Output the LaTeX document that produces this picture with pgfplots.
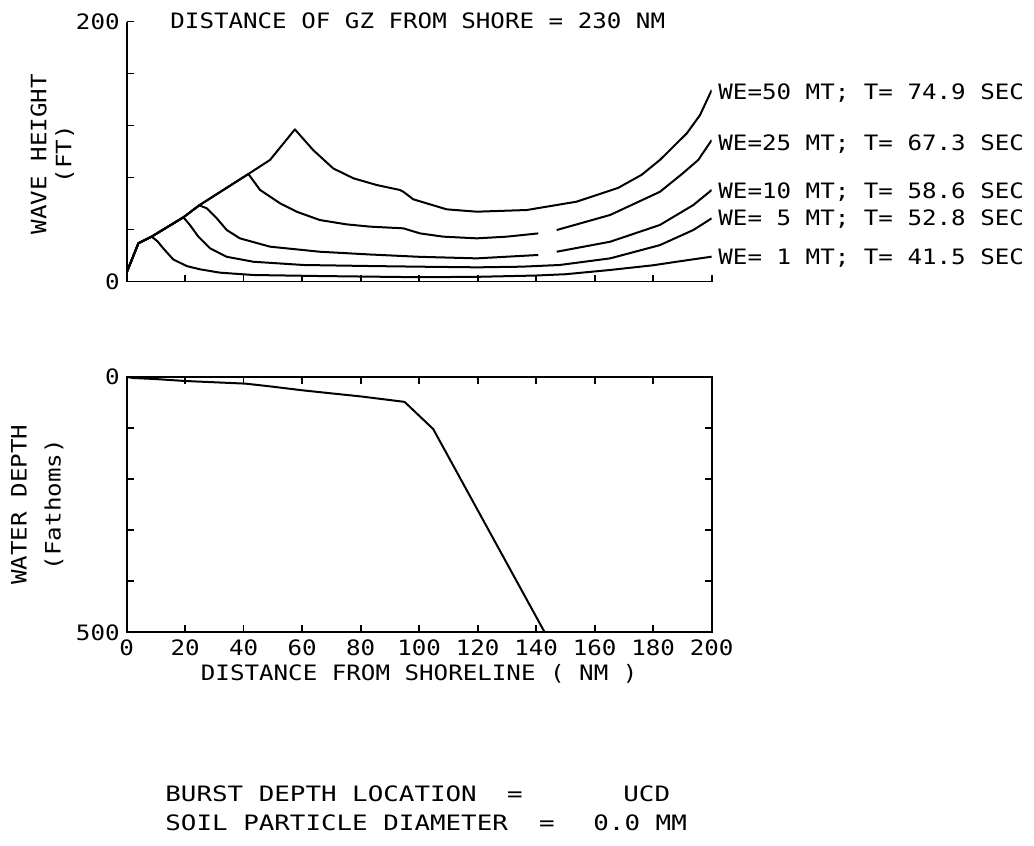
\documentclass[border=0pt]{standalone}
\usepackage{pgfplots}
\pgfplotsset{compat=1.18}
\usepackage{fontspec}
\newfontfamily\plotfont[FakeStretch=1.14]{DejaVu Sans Mono}
\newfontfamily\plotfontw[FakeStretch=1.22]{DejaVu Sans Mono}
\newcommand{\pf}{\plotfont\fontsize{10.6}{12.5}\selectfont}

% plotter look shared by both panels
\pgfplotsset{
  plotter/.style={
    scale only axis, width=292.5pt,
    xmin=0, xmax=200,
    xtick={0,20,...,200},
    tick align=inside,
    major tick length=3.5pt,
    axis line style={line width=0.9pt, -},
    every tick/.style={black, line width=0.8pt},
    tick label style={font=\pf},
    /pgf/number format/assume math mode=true,
    label style={font=\pf},
    cycle list={{black, solid, mark=none}},
    every axis plot post/.append style={line width=1pt, line join=round},
  },
}

\begin{document}
\begin{tikzpicture}
\path[use as bounding box] (0,0) rectangle (517pt,-423pt);

% wave height vs distance
\begin{axis}[plotter,
  at={(63.35pt,-140.75pt)}, anchor=south west, height=130pt,
  ymin=0, ymax=200, ytick={0,40,...,200}, yticklabels={0,,,,,200},
  xticklabels={},
  axis x line*=bottom, axis y line*=left,
  ylabel={WAVE HEIGHT\\(FT)},
  ylabel style={align=center, at={(axis description cs:-0.127,0.49)}, anchor=center},
]
% WE = 1 MT
\addplot coordinates {(0,7) (4,29.4) (8.5,34.5) (10.5,31) (12.5,25.5) (15.9,17) (20.5,11.9)
  (25,9.4) (31.9,6.8) (43.3,5) (66,4.2) (100,3.3) (120,3.6) (140,4.6) (150,5.6)
  (165,8.8) (180,12.5) (188,15.2) (200,19.1)};
% WE = 5 MT
\addplot coordinates {(0,7) (4,29.4) (8.5,34.5) (19.4,49.4) (21.6,43.5) (24.5,34.5)
  (28.5,25.5) (34.2,19) (43.3,15.2) (60.4,12.7) (83.2,11.9) (100,11.4) (120,10.9)
  (135,11.4) (148,12.7) (165.3,17.8) (182.3,28) (193.7,39.6) (200,48.6)};
% WE = 10 MT
\addplot coordinates {(0,7) (4,29.4) (8.5,34.5) (19.4,49.4) (24.8,58.6) (27.4,56.3)
  (30.8,48.6) (34.2,39.6) (38.7,33.2) (49,26.8) (66,22.9) (83,20.8) (100,19)
  (119.7,17.8) (140.7,20.4)};
\addplot coordinates {(147,22.9) (165.3,30.6) (182.3,43.5) (193.7,58.8) (200,70.4)};
% WE = 25 MT
\addplot coordinates {(0,7) (4,29.4) (8.5,34.5) (19.4,49.4) (24.8,58.6) (41.6,82.7)
  (45.6,70.4) (52.4,60.2) (58.1,53.7) (66,47.3) (75,44) (83.2,42.2) (94.6,40.9)
  (100.3,37) (108.2,34.5) (119.7,33.2) (130,34.5) (140.7,37)};
\addplot coordinates {(147,39.6) (165.3,51.2) (182.3,69) (190,83) (195.4,93.5) (200,108.8)};
% WE = 50 MT
\addplot coordinates {(0,7) (4,29.4) (8.5,34.5) (19.4,49.4) (24.8,58.6) (41.6,82.7)
  (49,93.5) (57.5,117) (63.8,101) (70.6,87) (77.5,79.4) (85.5,74.2) (93.4,70.4)
  (94.6,69) (98,63.2) (109.4,55.5) (119.7,53.7) (136.8,55) (153.8,61.4) (168,72)
  (176,82) (182.3,93.5) (191.5,114) (196,128) (200,147.3)};
\end{axis}

% water depth profile
\begin{axis}[plotter,
  at={(63.35pt,-316.15pt)}, anchor=south west, height=127.65pt,
  y dir=reverse,
  ymin=0, ymax=500, ytick={0,100,...,500}, yticklabels={0,,,,,500},
  xlabel={DISTANCE FROM SHORELINE ( NM )},
  xlabel style={yshift=2.5pt},
  ylabel={WATER DEPTH\\(Fathoms)},
  ylabel style={align=center, font=\plotfont\fontsize{10.6}{17}\selectfont,
    at={(axis description cs:-0.153,0.5)}, anchor=center},
]
\addplot coordinates {(0,0) (2.4,2) (10,4) (20,7.8) (40.7,13) (50,19) (60,26)
  (70.6,32.4) (80,38) (95,48.7) (104.8,102) (142.9,500)};
\end{axis}

% title and curve labels
\begin{scope}[every node/.style={font=\pf, inner sep=0pt, anchor=base west}]
\node at (85pt,-14.35pt) {DISTANCE OF GZ FROM SHORE = 230 NM};
\node at (359pt,-49.85pt) {WE=50 MT; T= 74.9 SEC};
\node at (359pt,-75.35pt) {WE=25 MT; T= 67.3 SEC};
\node at (359pt,-99.35pt) {WE=10 MT; T= 58.6 SEC};
\node at (359pt,-112.85pt) {WE= 5 MT; T= 52.8 SEC};
\node at (359pt,-132.35pt) {WE= 1 MT; T= 41.5 SEC};
\end{scope}

% run parameters
\begin{scope}[every node/.style={font=\plotfontw\fontsize{10.6}{12.5}\selectfont, inner sep=0pt}]
\node[anchor=base west] at (82.5pt,-400.8pt) {BURST DEPTH LOCATION};
\node[anchor=base] at (257.5pt,-400.8pt) {=};
\node[anchor=base west] at (311.5pt,-400.8pt) {UCD};
\node[anchor=base west] at (82.5pt,-415pt) {SOIL PARTICLE DIAMETER};
\node[anchor=base] at (273.5pt,-415pt) {=};
\node[anchor=base west] at (296.5pt,-415pt) {0.0 MM};
\end{scope}
\end{tikzpicture}
\end{document}
